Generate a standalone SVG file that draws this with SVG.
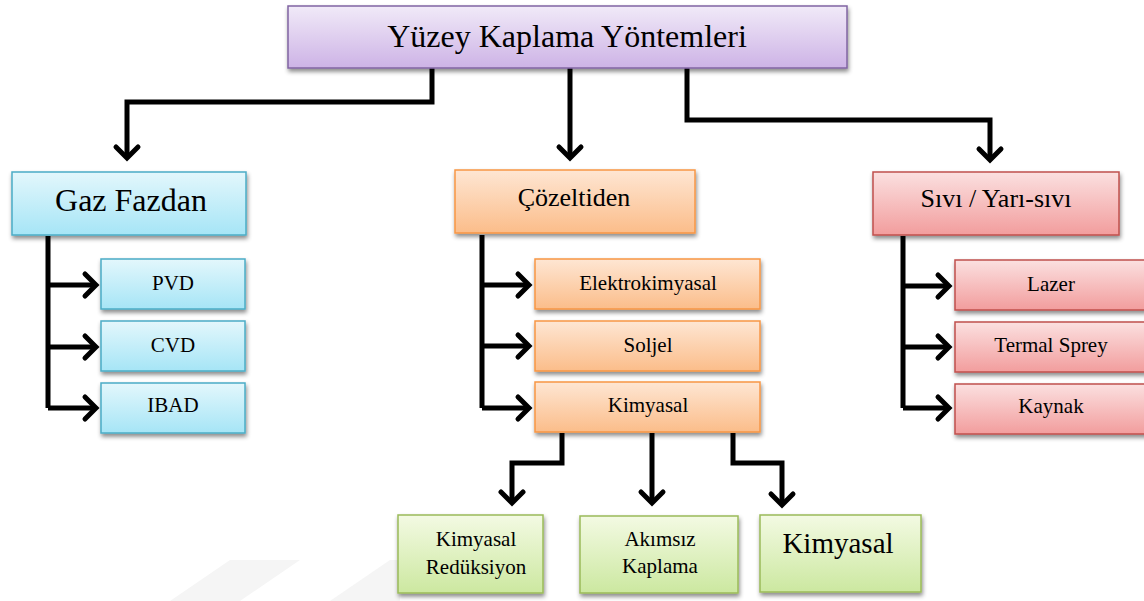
<svg xmlns="http://www.w3.org/2000/svg" width="1144" height="601" viewBox="0 0 1144 601">
<defs>
<linearGradient id="gPurple" x1="0" y1="0" x2="0" y2="1"><stop offset="0" stop-color="#f1eaf8"/><stop offset="1" stop-color="#cdb3e6"/></linearGradient>
<linearGradient id="gBlue" x1="0" y1="0" x2="0" y2="1"><stop offset="0" stop-color="#e3f7fc"/><stop offset="1" stop-color="#a6e5f6"/></linearGradient>
<linearGradient id="gOrange" x1="0" y1="0" x2="0" y2="1"><stop offset="0" stop-color="#fee6d3"/><stop offset="1" stop-color="#fbbd8a"/></linearGradient>
<linearGradient id="gRed" x1="0" y1="0" x2="0" y2="1"><stop offset="0" stop-color="#fbe0e0"/><stop offset="1" stop-color="#f29d9d"/></linearGradient>
<linearGradient id="gGreen" x1="0" y1="0" x2="0" y2="1"><stop offset="0" stop-color="#f3fae3"/><stop offset="1" stop-color="#cce8a0"/></linearGradient>
<filter id="sh" x="-10%" y="-10%" width="125%" height="140%"><feDropShadow dx="1" dy="3" stdDeviation="2" flood-color="#000" flood-opacity="0.45"/></filter>
<marker id="arr" markerUnits="userSpaceOnUse" orient="auto" overflow="visible" refX="0" refY="0" markerWidth="30" markerHeight="30">
<path d="M-11,-11 L0,0 L-11,11" fill="none" stroke="#000" stroke-width="5" stroke-linecap="round" stroke-linejoin="miter"/>
</marker>
</defs>
<style>
text{font-family:'Liberation Serif','Times New Roman',serif;fill:#000;text-anchor:middle}
.s{font-size:21px}
.m{font-size:26px}
.box{filter:url(#sh);stroke-width:1.5}
.p{fill:url(#gPurple);stroke:#8064a2}
.b{fill:url(#gBlue);stroke:#4bacc6}
.o{fill:url(#gOrange);stroke:#f79646}
.r{fill:url(#gRed);stroke:#c0504d}
.g{fill:url(#gGreen);stroke:#9bbb59}
.c{fill:none;stroke:#000;stroke-width:5;stroke-linejoin:miter}
.a{marker-end:url(#arr)}
</style>
<rect width="1144" height="601" fill="#fff"/>
<g id="watermark" fill="#f5f5f5">
<polygon points="170,601 230,560 300,560 240,601"/>
<polygon points="330,601 390,560 400,560 400,601"/>
</g>
<g id="connectors">
<polyline class="c a" points="432,68 432,102 127,102 127,158"/>
<polyline class="c a" points="570,68 570,158"/>
<polyline class="c a" points="687,68 687,120 990,120 990,160"/>
<polyline class="c" points="48,236 48,408"/>
<polyline class="c a" points="48,285 96,285"/>
<polyline class="c a" points="48,347 96,347"/>
<polyline class="c a" points="48,408 96,408"/>
<polyline class="c" points="482,235 482,408"/>
<polyline class="c a" points="482,285 529,285"/>
<polyline class="c a" points="482,346 529,346"/>
<polyline class="c a" points="482,408 529,408"/>
<polyline class="c" points="903,236 903,408"/>
<polyline class="c a" points="903,286 949,286"/>
<polyline class="c a" points="903,347 949,347"/>
<polyline class="c a" points="903,408 949,408"/>
<polyline class="c a" points="562,433 562,463 512,463 512,503"/>
<polyline class="c a" points="652,433 652,503"/>
<polyline class="c a" points="733,433 733,463 782,463 782,505"/>
</g>
<g id="n-root"><rect class="box p" x="288" y="6" width="559" height="62"/><text x="567" y="47" font-size="32">Yüzey Kaplama Yöntemleri</text></g>
<g id="n-gaz"><rect class="box b" x="12" y="172" width="234" height="63"/><text x="131" y="211" font-size="32">Gaz Fazdan</text></g>
<g id="n-coz"><rect class="box o" x="455" y="170" width="240" height="63"/><text class="m" x="574" y="206">Çözeltiden</text></g>
<g id="n-sivi"><rect class="box r" x="873" y="172" width="246" height="63"/><text class="m" x="996" y="207">Sıvı / Yarı-sıvı</text></g>
<g id="n-pvd"><rect class="box b" x="101" y="259" width="144" height="50"/><text class="s" x="173" y="290">PVD</text></g>
<g id="n-cvd"><rect class="box b" x="101" y="321" width="144" height="50"/><text class="s" x="173" y="352">CVD</text></g>
<g id="n-ibad"><rect class="box b" x="101" y="383" width="144" height="50"/><text class="s" x="173" y="412">IBAD</text></g>
<g id="n-elektro"><rect class="box o" x="535" y="259" width="225" height="50"/><text class="s" x="648" y="290">Elektrokimyasal</text></g>
<g id="n-soljel"><rect class="box o" x="535" y="321" width="225" height="50"/><text class="s" x="648" y="352">Soljel</text></g>
<g id="n-kimyasal"><rect class="box o" x="535" y="382" width="225" height="50"/><text class="s" x="648" y="412">Kimyasal</text></g>
<g id="n-lazer"><rect class="box r" x="955" y="260" width="192" height="50"/><text class="s" x="1051" y="291">Lazer</text></g>
<g id="n-termal"><rect class="box r" x="955" y="322" width="192" height="50"/><text class="s" x="1051" y="352">Termal Sprey</text></g>
<g id="n-kaynak"><rect class="box r" x="955" y="384" width="192" height="50"/><text class="s" x="1051" y="413">Kaynak</text></g>
<g id="n-kred"><rect class="box g" x="398" y="515" width="145" height="78"/><text class="s" x="476" y="546">Kimyasal</text><text class="s" x="476" y="574">Redüksiyon</text></g>
<g id="n-akimsiz"><rect class="box g" x="580" y="516" width="158" height="77"/><text class="s" x="660" y="546">Akımsız</text><text class="s" x="660" y="573">Kaplama</text></g>
<g id="n-kim2"><rect class="box g" x="760" y="515" width="161" height="77"/><text x="838" y="553" font-size="29">Kimyasal</text></g>
</svg>
